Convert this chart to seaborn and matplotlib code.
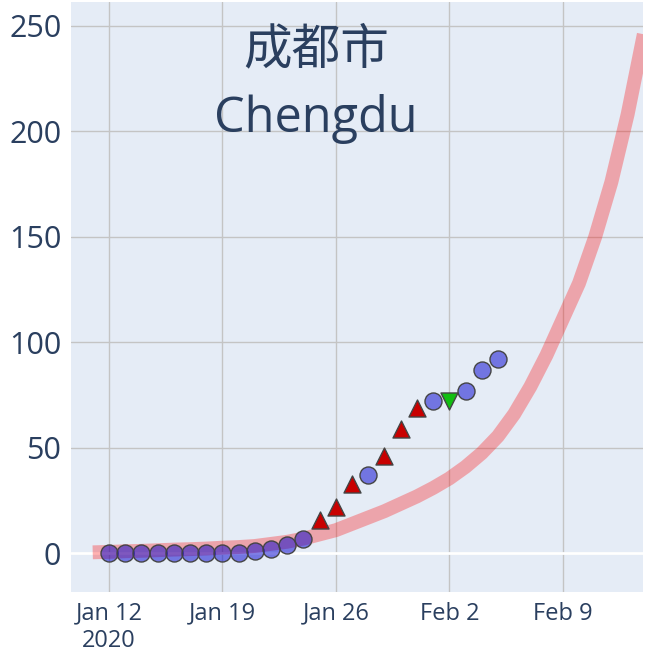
import pandas as pd
import numpy as np
import matplotlib
matplotlib.use("Agg")
import matplotlib.pyplot as plt
import seaborn as sns

# --- Data ---
point_dates = pd.date_range("2020-01-12", "2020-02-05", freq="D")
point_values = [0, 0, 0, 0, 0, 0, 0, 0, 0, 1, 2, 4, 7,
                16, 22, 33, 37, 46, 59, 69, 72, 72, 77, 87, 92]
point_kinds = ["same"] * 13 + ["up", "up", "up", "same", "up", "up", "up",
                               "same", "down", "same", "same", "same"]

fit_dates = pd.date_range("2020-01-11", "2020-02-14", freq="D")
fit_values = [0.5, 0.7, 1.0, 1.2, 1.5, 1.8, 2.0, 2.3, 2.7, 3.0, 3.5, 4.5,
              5.5, 7, 9, 11, 14, 17, 20, 23.5, 27, 31, 35.5, 41, 47.5, 55.5, 66,
              79, 94, 111, 128, 150, 176, 208, 246]

xtick_dates = pd.to_datetime(["2020-01-12", "2020-01-19", "2020-01-26",
                              "2020-02-02", "2020-02-09"])
xtick_labels = ["Jan 12\n2020", "Jan 19", "Jan 26", "Feb 2", "Feb 9"]
ytick_values = [0, 50, 100, 150, 200, 250]

title_cn = "成都市"
title_en = "Chengdu"

points = pd.DataFrame({"date": point_dates, "value": point_values, "kind": point_kinds})
fit = pd.DataFrame({"date": fit_dates, "value": fit_values})

# --- Style ---
text_color = "#2a3f5f"
sns.set_style("whitegrid", {
    "axes.facecolor": "#E5ECF6",
    "axes.edgecolor": "#E5ECF6",
    "grid.color": "#C4C4C4",
    "axes.linewidth": 0,
})
plt.rcParams["font.family"] = ["Open Sans", "Noto Sans CJK SC", "DejaVu Sans"]

fig = plt.figure(figsize=(6.57, 6.56), dpi=100)
ax = fig.add_axes([71 / 657, 64 / 656, 572 / 657, 590 / 656])
ax.set_axisbelow(True)

# fitted curve
sns.lineplot(data=fit, x="date", y="value", ax=ax, color=(1, 0, 0, 0.3),
             linewidth=10, zorder=2, legend=False, solid_capstyle="butt")

# observed points
same = points[points["kind"] == "same"]
up = points[points["kind"] == "up"]
down = points[points["kind"] == "down"]
sns.scatterplot(data=same, x="date", y="value", ax=ax, marker="o", s=150,
                color=(0, 0, 205 / 255, 0.5), edgecolor="#444444", linewidth=1,
                zorder=3, legend=False)
sns.scatterplot(data=up, x="date", y="value", ax=ax, marker="^", s=150,
                color="#C80000", edgecolor="#444444", linewidth=1,
                zorder=3, legend=False)
sns.scatterplot(data=down, x="date", y="value", ax=ax, marker="v", s=150,
                color="#12BE12", edgecolor="#444444", linewidth=1,
                zorder=3, legend=False)

# zero line
ax.axhline(0, color="white", linewidth=2, zorder=1)

# --- Axes ---
ax.set_xlim(pd.Timestamp("2020-01-12") - pd.Timedelta(days=2.34),
            pd.Timestamp("2020-01-12") + pd.Timedelta(days=32.95))
ax.set_ylim(-18.3, 261.3)
ax.set_xticks(xtick_dates)
ax.set_xticklabels(xtick_labels, fontsize=17, color=text_color,
                   multialignment="center")
ax.set_yticks(ytick_values)
ax.set_yticklabels([str(v) for v in ytick_values], fontsize=22, color=text_color)
ax.tick_params(axis="both", length=5, width=1, color="#A0A0A0", pad=2)
ax.grid(True, linewidth=1)
ax.set_xlabel("")
ax.set_ylabel("")
for s in ax.spines.values():
    s.set_visible(False)

ax.text(0.428, 0.918, title_cn, transform=ax.transAxes, ha="center",
        va="center", fontsize=35, color=text_color)
ax.text(0.428, 0.78, title_en, transform=ax.transAxes, ha="center",
        va="baseline", fontsize=35, color=text_color)

fig.savefig("out.png", dpi=100)
